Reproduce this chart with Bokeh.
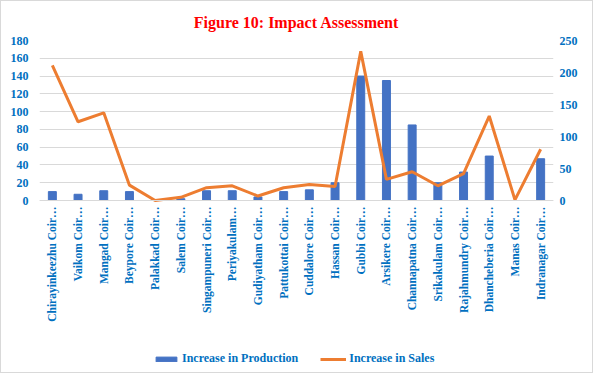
from bokeh.plotting import figure
from bokeh.models import Range1d, LinearAxis, FixedTicker, Legend, LegendItem
from bokeh.embed import file_html
from bokeh.resources import INLINE

categories = ["Chirayinkeezhu Coir…", "Vaikom Coir…", "Mangad Coir…", "Beypore Coir…",
              "Palakkad Coir…", "Salem Coir…", "Singampuneri Coir…", "Periyakulam…",
              "Gudiyatham Coir…", "Pattukottai Coir…", "Cuddalore Coir…", "Hassan Coir…",
              "Gubbi Coir…", "Arsikere Coir…", "Channapatna Coir…", "Srikakulam Coir…",
              "Rajahmundry Coir…", "Dhancheberia Coir…", "Manas Coir…", "Indranagar Coir…"]
production = [10, 7, 11, 10, 0.5, 2, 11, 11, 4, 10, 12, 20, 140, 135, 85, 20, 32, 50, 0, 47]
sales = [211, 123, 137, 24, 0, 5, 20, 23, 7, 20, 25, 22, 233, 33, 45, 23, 42, 132, 1, 80]
left_ticks = [0, 20, 40, 60, 80, 100, 120, 140, 160, 180]
right_ticks = [0, 50, 100, 150, 200, 250]

BLUE_TXT = "#0070C0"
FONT = "Liberation Serif"

# the plotting frame extends below the value area so the category labels and
# legend sit inside it; 0..180 occupies the top 160 px of a 332 px frame
FRAME_H, DATA_H = 332, 160
left_min = -180 * (FRAME_H - DATA_H) / DATA_H
right_min = -250 * (FRAME_H - DATA_H) / DATA_H

p = figure(x_range=categories, y_range=Range1d(left_min, 180),
           frame_width=514, frame_height=FRAME_H,
           output_backend="svg", toolbar_location=None,
           min_border_left=38, min_border_right=39, min_border_top=39, min_border_bottom=0,
           title="Figure 10: Impact Assessment")
p.extra_y_ranges = {"sales": Range1d(right_min, 250)}

p.title.align = "center"
p.title.offset = 6
p.title.text_color = "#FF0000"
p.title.text_font = FONT
p.title.text_font_style = "bold"
p.title.text_font_size = "16px"
p.title.standoff = 20

p.outline_line_color = None
p.styles = {"border": "1px solid #D9D9D9"}

bars = p.vbar(x=categories, top=production, width=0.31, color="#4472C4")
ln = p.line(x=categories, y=sales, y_range_name="sales", line_color="#ED7D31", line_width=3)

p.yaxis.ticker = FixedTicker(ticks=left_ticks)
right = LinearAxis(y_range_name="sales", ticker=FixedTicker(ticks=right_ticks))
p.add_layout(right, "right")

for ax in [p.yaxis[0], right]:
    ax.axis_line_color = None
    ax.major_tick_line_color = None
    ax.minor_tick_line_color = None
    ax.major_tick_out = 0
    ax.major_label_text_color = BLUE_TXT
    ax.major_label_text_font = FONT
    ax.major_label_text_font_style = "bold"
    ax.major_label_text_font_size = "12px"
p.yaxis[0].major_label_standoff = 11
right.major_label_standoff = 6

xa = p.xaxis[0]
xa.fixed_location = 0
xa.axis_line_color = "#D9D9D9"
xa.major_tick_line_color = None
xa.major_tick_out = 0
xa.major_tick_in = 0
xa.major_label_orientation = 1.5708
xa.major_label_text_color = BLUE_TXT
xa.major_label_text_font = FONT
xa.major_label_text_font_style = "bold"
xa.major_label_text_font_size = "11.5px"
xa.major_label_standoff = 6

p.xgrid.grid_line_color = None
p.ygrid.grid_line_color = "#D9D9D9"
p.ygrid.ticker = FixedTicker(ticks=left_ticks)

legend = Legend(items=[LegendItem(label="Increase in Production", renderers=[bars]),
                       LegendItem(label="Increase in Sales", renderers=[ln])],
                orientation="horizontal", location=(114, 6))
legend.label_text_font = FONT
legend.label_text_font_style = "bold"
legend.label_text_font_size = "12px"
legend.label_text_color = BLUE_TXT
legend.border_line_color = None
legend.background_fill_alpha = 0
legend.glyph_width = 26
legend.glyph_height = 6
legend.label_standoff = 3
legend.spacing = 22
legend.padding = 0
legend.margin = 0
p.add_layout(legend, "center")

open("out.html", "w").write(file_html(p, INLINE))
